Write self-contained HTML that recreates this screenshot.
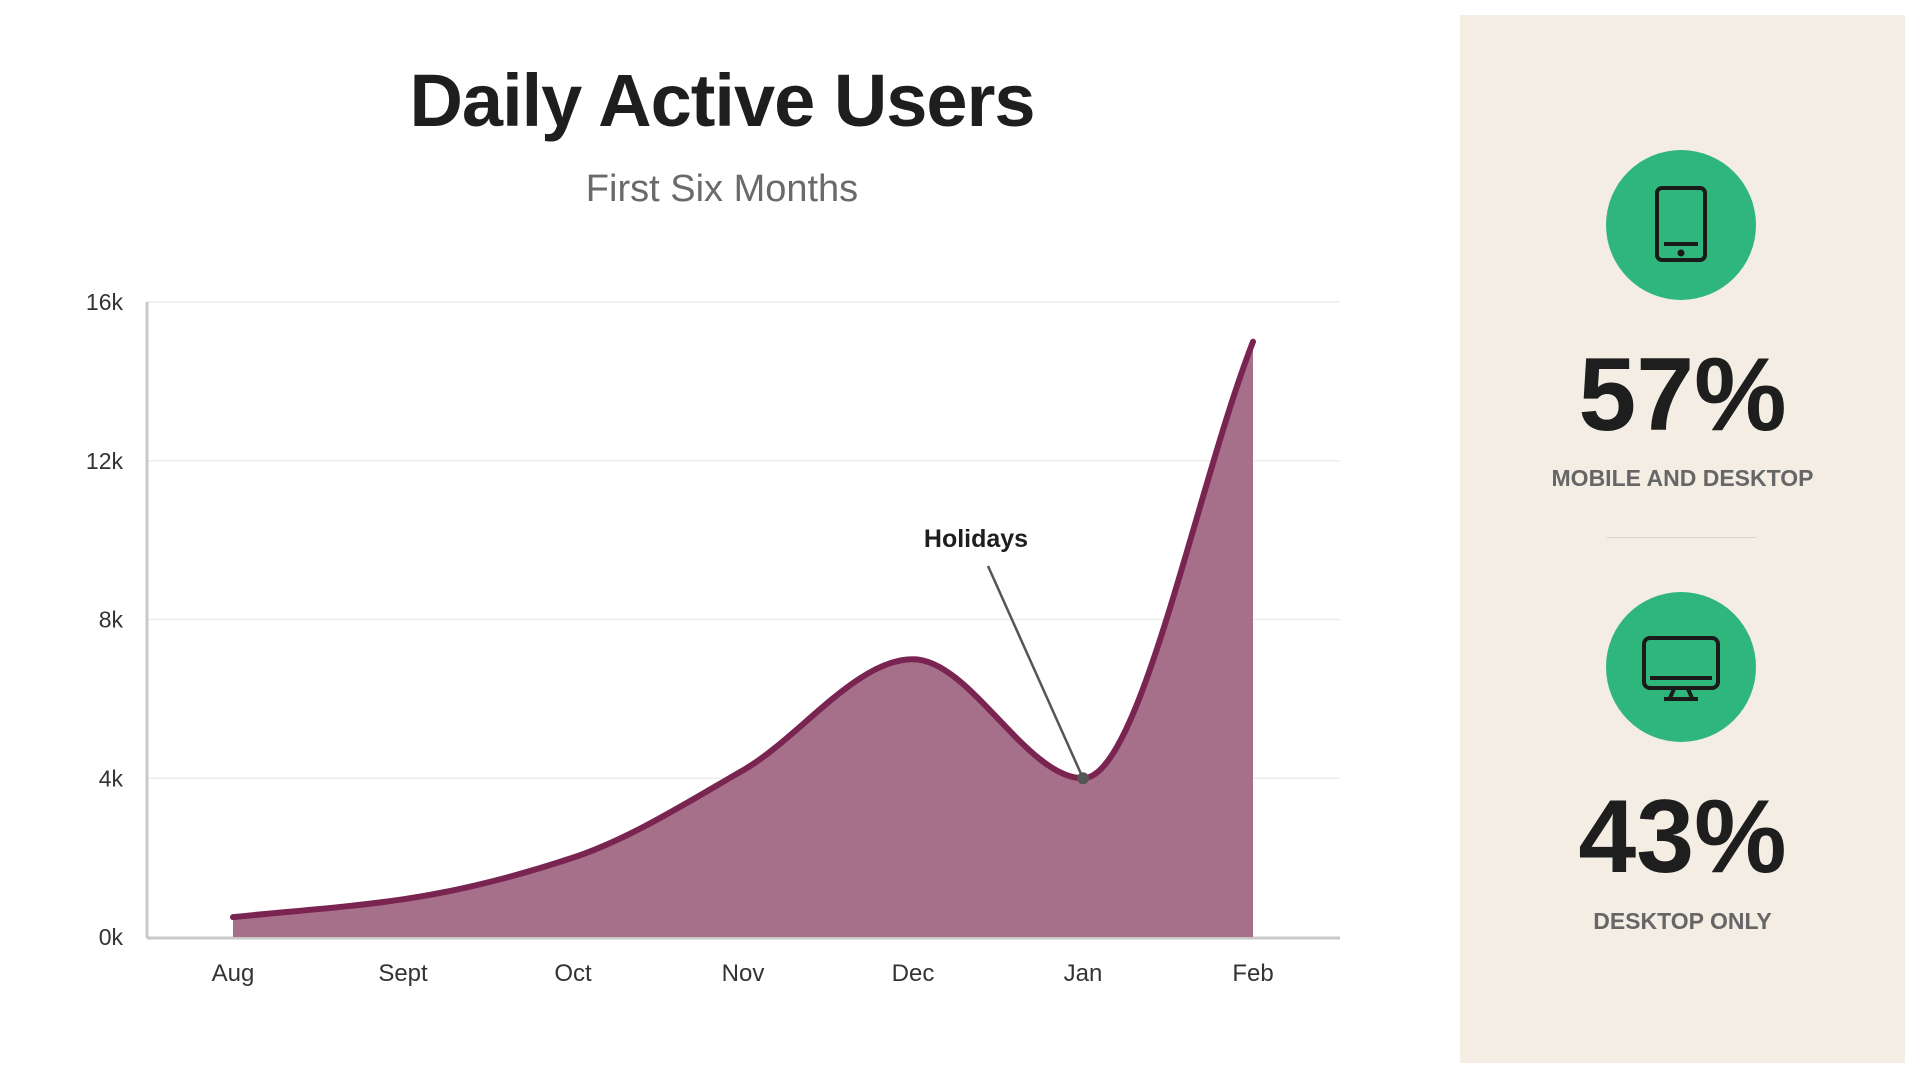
<!DOCTYPE html>
<html><head><meta charset="utf-8"><style>
body{margin:0;width:1920px;height:1080px;background:#fff;font-family:"Liberation Sans",sans-serif;position:relative;overflow:hidden}
.abs{position:absolute}
</style></head><body>
<div class="abs" style="left:222px;width:1000px;top:58px;text-align:center;font-size:74px;font-weight:bold;color:#1e1e1e;letter-spacing:-1px">Daily Active Users</div>
<div class="abs" style="left:222px;width:1000px;top:168px;text-align:center;font-size:38px;color:#6a6a6a">First Six Months</div>
<svg class="abs" style="left:0;top:0" width="1460" height="1080">
<g id="grid"></g><g id="area"></g><g id="ann"></g><g id="labels"></g>
</svg>
<div class="abs" style="left:1460px;top:15px;width:445px;height:1048px;background:#f3ede4">
  <div class="abs" style="left:146px;top:135px;width:150px;height:150px;border-radius:50%;background:#2fb67c">
    <svg width="150" height="150"><rect x="51" y="38" width="48" height="72" rx="5" fill="none" stroke="#1a1a1a" stroke-width="4"/><line x1="58" y1="94" x2="92" y2="94" stroke="#1a1a1a" stroke-width="4"/><circle cx="75" cy="103" r="3.5" fill="#1a1a1a"/></svg>
  </div>
  <div class="abs" style="left:0;width:445px;top:328px;text-align:center;font-size:104px;font-weight:bold;color:#1e1e1e;line-height:1">57%</div>
  <div class="abs" style="left:0;width:445px;top:450px;text-align:center;font-size:23px;font-weight:bold;color:#666">MOBILE AND DESKTOP</div>
  <div class="abs" style="left:147px;width:149px;top:522px;height:1px;background:#d9d3cb"></div>
  <div class="abs" style="left:146px;top:577px;width:150px;height:150px;border-radius:50%;background:#2fb67c">
    <svg width="150" height="150"><rect x="38" y="46" width="74" height="50" rx="6" fill="none" stroke="#1a1a1a" stroke-width="4"/><line x1="44" y1="86" x2="106" y2="86" stroke="#1a1a1a" stroke-width="4"/><path d="M68 97 L64 106 M82 97 L86 106 M58 107 H92" stroke="#1a1a1a" stroke-width="4" fill="none"/></svg>
  </div>
  <div class="abs" style="left:0;width:445px;top:770px;text-align:center;font-size:104px;font-weight:bold;color:#1e1e1e;line-height:1">43%</div>
  <div class="abs" style="left:0;width:445px;top:893px;text-align:center;font-size:23px;font-weight:bold;color:#666">DESKTOP ONLY</div>
</div>
<script>
const categories=["Aug","Sept","Oct","Nov","Dec","Jan","Feb"];
const users=[500,950,2000,4200,7000,4000,15000];
const yTicks=[0,4000,8000,12000,16000];
const yTickLabels=["0k","4k","8k","12k","16k"];
const annotationIndex=5;
const annotationText="Holidays";
const NS="http://www.w3.org/2000/svg";
const X0=233,X1=1253,Y0=937,Y1=302,L=147,R=1340;
const x=i=>X0+(X1-X0)*i/(categories.length-1);
const y=v=>Y0-(Y0-Y1)*v/16000;
function mk(tag,attrs,parent){const e=document.createElementNS(NS,tag);for(const k in attrs)e.setAttribute(k,attrs[k]);document.getElementById(parent).appendChild(e);return e;}
yTicks.forEach((t,i)=>{
  if(t>0){const g=mk('line',{x1:L,x2:R,y1:y(t),y2:y(t),stroke:'#ececec','stroke-width':1.5},'grid');
  
  }
  const tx=mk('text',{x:123,y:y(t)+8,'text-anchor':'end','font-size':23,fill:'#333','font-family':'Liberation Sans'},'labels');
  tx.textContent=yTickLabels[i];
  
  
});
const ya=mk('line',{x1:L,x2:L,y1:Y1,y2:Y0+1,stroke:'#c8c8c8','stroke-width':3},'grid');


const xa=mk('line',{x1:L,x2:R,y1:Y0+1,y2:Y0+1,stroke:'#c8c8c8','stroke-width':3},'grid');


categories.forEach((c,i)=>{
  const t=mk('text',{x:x(i),y:981,'text-anchor':'middle','font-size':24,fill:'#333','font-family':'Liberation Sans'},'labels');
  t.textContent=c;
  
  
});
const P=users.map((v,i)=>[x(i),y(v)]);const n=P.length;
const d=[],m=[];
for(let i=0;i<n-1;i++)d.push((P[i+1][1]-P[i][1])/(P[i+1][0]-P[i][0]));
m[0]=d[0];m[n-1]=d[n-2];
for(let i=1;i<n-1;i++){m[i]=(d[i-1]*d[i]<=0)?0:2/(1/d[i-1]+1/d[i]);}
let path=`M${P[0][0]},${P[0][1]}`;
for(let i=0;i<n-1;i++){const h=(P[i+1][0]-P[i][0])/3;path+=` C${P[i][0]+h},${P[i][1]+m[i]*h} ${P[i+1][0]-h},${P[i+1][1]-m[i+1]*h} ${P[i+1][0]},${P[i+1][1]}`;}
const area=mk('path',{d:path+` L${P[n-1][0]},${Y0} L${P[0][0]},${Y0} Z`,fill:'#a6708b'},'area');


const line=mk('path',{d:path,fill:'none',stroke:'#7a2451','stroke-width':6,'stroke-linecap':'round'},'area');


const ax=x(annotationIndex),ay=y(users[annotationIndex]);
const al=mk('line',{x1:988,y1:566,x2:ax,y2:ay,stroke:'#555','stroke-width':2.5},'ann');


const dot=mk('circle',{cx:ax,cy:ay,r:6,fill:'#555'},'ann');


const at=mk('text',{x:976,y:547,'text-anchor':'middle','font-size':25,'font-weight':'bold',fill:'#1e1e1e','font-family':'Liberation Sans'},'ann');
at.textContent=annotationText;


</script>
</body></html>
